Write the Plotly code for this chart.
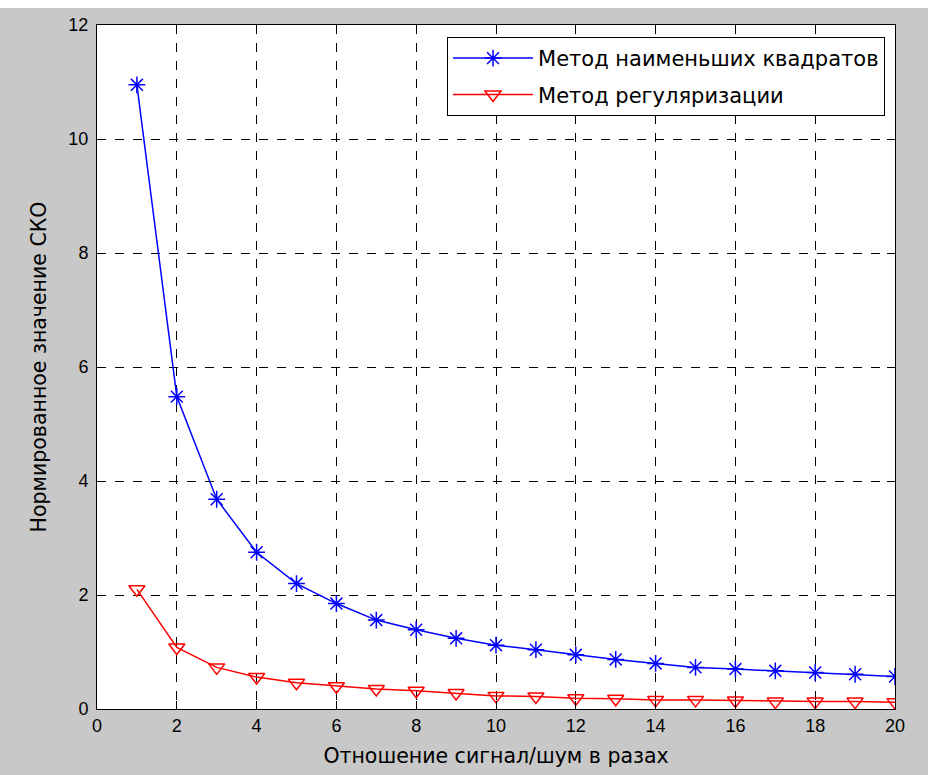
import plotly.graph_objects as go

x_vals = list(range(1, 21))
lsq_vals = [10.95, 5.48, 3.68, 2.75, 2.20, 1.85, 1.56, 1.39, 1.24, 1.12,
            1.04, 0.95, 0.87, 0.80, 0.73, 0.70, 0.67, 0.64, 0.61, 0.57]
reg_vals = [2.10, 1.08, 0.73, 0.56, 0.46, 0.40, 0.35, 0.32, 0.28, 0.23,
            0.22, 0.19, 0.18, 0.16, 0.16, 0.15, 0.13, 0.13, 0.13, 0.12]
series_names = ["Метод наименьших квадратов", "Метод регуляризации"]
x_title = "Отношение сигнал/шум в разах"
y_title = "Нормированное значение СКО"
x_ticks = list(range(0, 21, 2))
y_ticks = list(range(0, 13, 2))

TICKFONT = "Liberation Sans, Arial, sans-serif"
TEXTFONT = "DejaVu Sans, Liberation Sans, sans-serif"

fig = go.Figure()
fig.add_trace(go.Scatter(
    x=x_vals, y=lsq_vals, name=series_names[0], mode="lines+markers",
    legendgroup="a",
    line=dict(color="#0000ff", width=1.5),
    marker=dict(symbol="asterisk-open", size=14, line=dict(color="#0000ff", width=1.5)),
))
fig.add_trace(go.Scatter(
    x=x_vals, y=reg_vals, name=series_names[1], mode="lines+markers",
    legendgroup="b",
    line=dict(color="#ff0000", width=1.5),
    marker=dict(symbol="triangle-down-open", size=14, color="#ff0000",
                line=dict(color="#ff0000", width=1.5)),
))

axis_common = dict(
    showline=True, linecolor="black", linewidth=1, mirror="ticks",
    ticks="inside", ticklen=8, tickcolor="black", tickwidth=1,
    showgrid=True, gridcolor="black", griddash="dash", gridwidth=1,
    zeroline=False, tickfont=dict(family=TICKFONT, size=18, color="black"),
)

fig.update_xaxes(range=[0, 20], tickvals=x_ticks,
                 title=dict(text=x_title, font=dict(family=TEXTFONT, size=20.5, color="black"), standoff=14),
                 **axis_common)
fig.update_yaxes(range=[0, 12], tickvals=y_ticks, ticklabelstandoff=4,
                 title=dict(text=y_title, font=dict(family=TEXTFONT, size=20.5, color="black"), standoff=16),
                 **axis_common)

fig.add_shape(type="rect", xref="paper", yref="paper",
              x0=-0.2, x1=1.1, y0=1 + 17 / 684, y1=1.2,
              fillcolor="white", line=dict(width=0), layer="below")

fig.update_layout(
    width=928, height=775,
    margin=dict(l=97, r=33, t=25, b=66),
    paper_bgcolor="#c8c8c8", plot_bgcolor="white",
    font=dict(family=TEXTFONT, color="black"),
    legend=dict(x=0.9875, y=0.9825, xanchor="right", yanchor="top",
                bgcolor="white", bordercolor="black", borderwidth=1,
                font=dict(family=TEXTFONT, size=21, color="black"),
                itemwidth=80, tracegroupgap=6),
    showlegend=True,
)

fig.write_html("out.html")
